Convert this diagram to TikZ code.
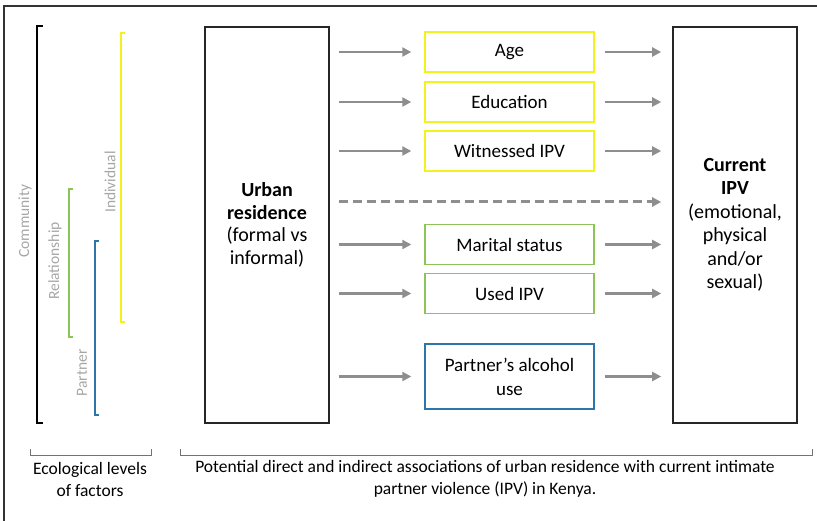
\documentclass[tikz,border=0pt]{standalone}
\usepackage{fontspec}
\setmainfont{Carlito}
\usepackage{xcolor}
\usetikzlibrary{arrows.meta}

\definecolor{ylw}{HTML}{F2F21E}
\definecolor{grn}{HTML}{8CC45A}
\definecolor{blu}{HTML}{2E75A8}
\definecolor{arr}{HTML}{8E8E8E}
\definecolor{lbl}{HTML}{A6A6A6}

\tikzset{
  bigbox/.style={draw=black!85, line width=1.6pt, minimum width=124pt, minimum height=396pt, inner sep=0pt, align=center, font=\fontsize{20}{22.5}\selectfont},
  factor/.style={draw=#1, line width=1.4pt, minimum width=169pt, minimum height=40pt, inner sep=0pt, align=center, font=\fontsize{19}{24}\selectfont},
  link/.style={arr, line width=2.2pt, -{Triangle[length=9pt,width=9pt]}},
  level/.style={lbl, rotate=90, font=\fontsize{15.5}{18}\selectfont}
}

\begin{document}
\begin{tikzpicture}[x=1pt, y=-1pt]
\useasboundingbox (0,0) rectangle (817,521);

        % Frame
        \coordinate (F1) at (4,521);
        \coordinate (F2) at (4,6);
        \coordinate (F3) at (817,6);
        \draw[line width=1.3pt, black!80] (F1) -- (F2) -- (F3);

        % Ecological levels (brackets)
        \draw[- , line width=1.4pt, black] (43,26) -- (37,26) -- (37,423) -- (43,423);
        \draw[- , line width=1.4pt, ylw] (125,33) -- (121,33) -- (121,322) -- (125,322);
        \draw[- , line width=1.4pt, grn] (73,189) -- (69,189) -- (69,337) -- (73,337);
        \draw[- , line width=1.4pt, blu] (99,241) -- (95,241) -- (95,415) -- (99,415);

        \node[level] (community) at (25,221) {Community};
        \node[level] (relationship) at (55,261) {Relationship};
        \node[level] (partner) at (82,373) {Partner};
        \node[level] (individual) at (110,182) {Individual};

        % Main boxes
        \node[bigbox] (urban) at (267,225) {\textbf{Urban}\\\textbf{residence}\\(formal vs\\informal)};
        \node[bigbox, font=\fontsize{20}{23.5}\selectfont] (ipv) at (735,225) {\textbf{Current}\\\textbf{IPV}\\(emotional,\\physical\\and/or\\sexual)};

        % Factors
        \node[factor=ylw] (age) at (509.5,52) {Age};
        \node[factor=ylw] (edu) at (509.5,102) {Education};
        \node[factor=ylw] (wit) at (509.5,151) {Witnessed IPV};
        \node[factor=grn] (mar) at (509.5,244.5) {Marital status};
        \node[factor=grn] (used) at (509.5,293.5) {Used IPV};
        \node[factor=blu, minimum height=65pt] (alc) at (509.5,376.5) {Partner’s alcohol\\use};

        % Arrows via factors
        \foreach \f in {age, edu, wit, mar, used, alc} {
          \draw[link, shorten <=9pt, shorten >=13pt] (urban.east |- \f) -- (\f.west);
          \draw[link, shorten <=10pt, shorten >=11pt] (\f.east) -- (ipv.west |- \f);
        }

        % Direct association
        \coordinate (direct) at (267,202);
        \draw[link, line width=3pt, dash pattern=on 9pt off 5pt, shorten <=9pt, shorten >=11pt] (urban.east |- direct) -- (ipv.west |- direct);

        % Bottom brackets
        \draw[- , line width=1pt, black!55] (30,449) -- (30,455) -- (151,455) -- (151,449);
        \draw[- , line width=1pt, black!55] (180,449) -- (180,455) -- (812,455) -- (812,449);

        \node[align=center, font=\fontsize{17.5}{22}\selectfont] (ecol) at (90,479) {Ecological levels\\of factors};
        \node[align=center, font=\fontsize{17.5}{22}\selectfont] (assoc) at (485,479) {Potential direct and indirect associations of urban residence with current intimate\\partner violence (IPV) in Kenya.};
    \end{tikzpicture}
\end{document}
